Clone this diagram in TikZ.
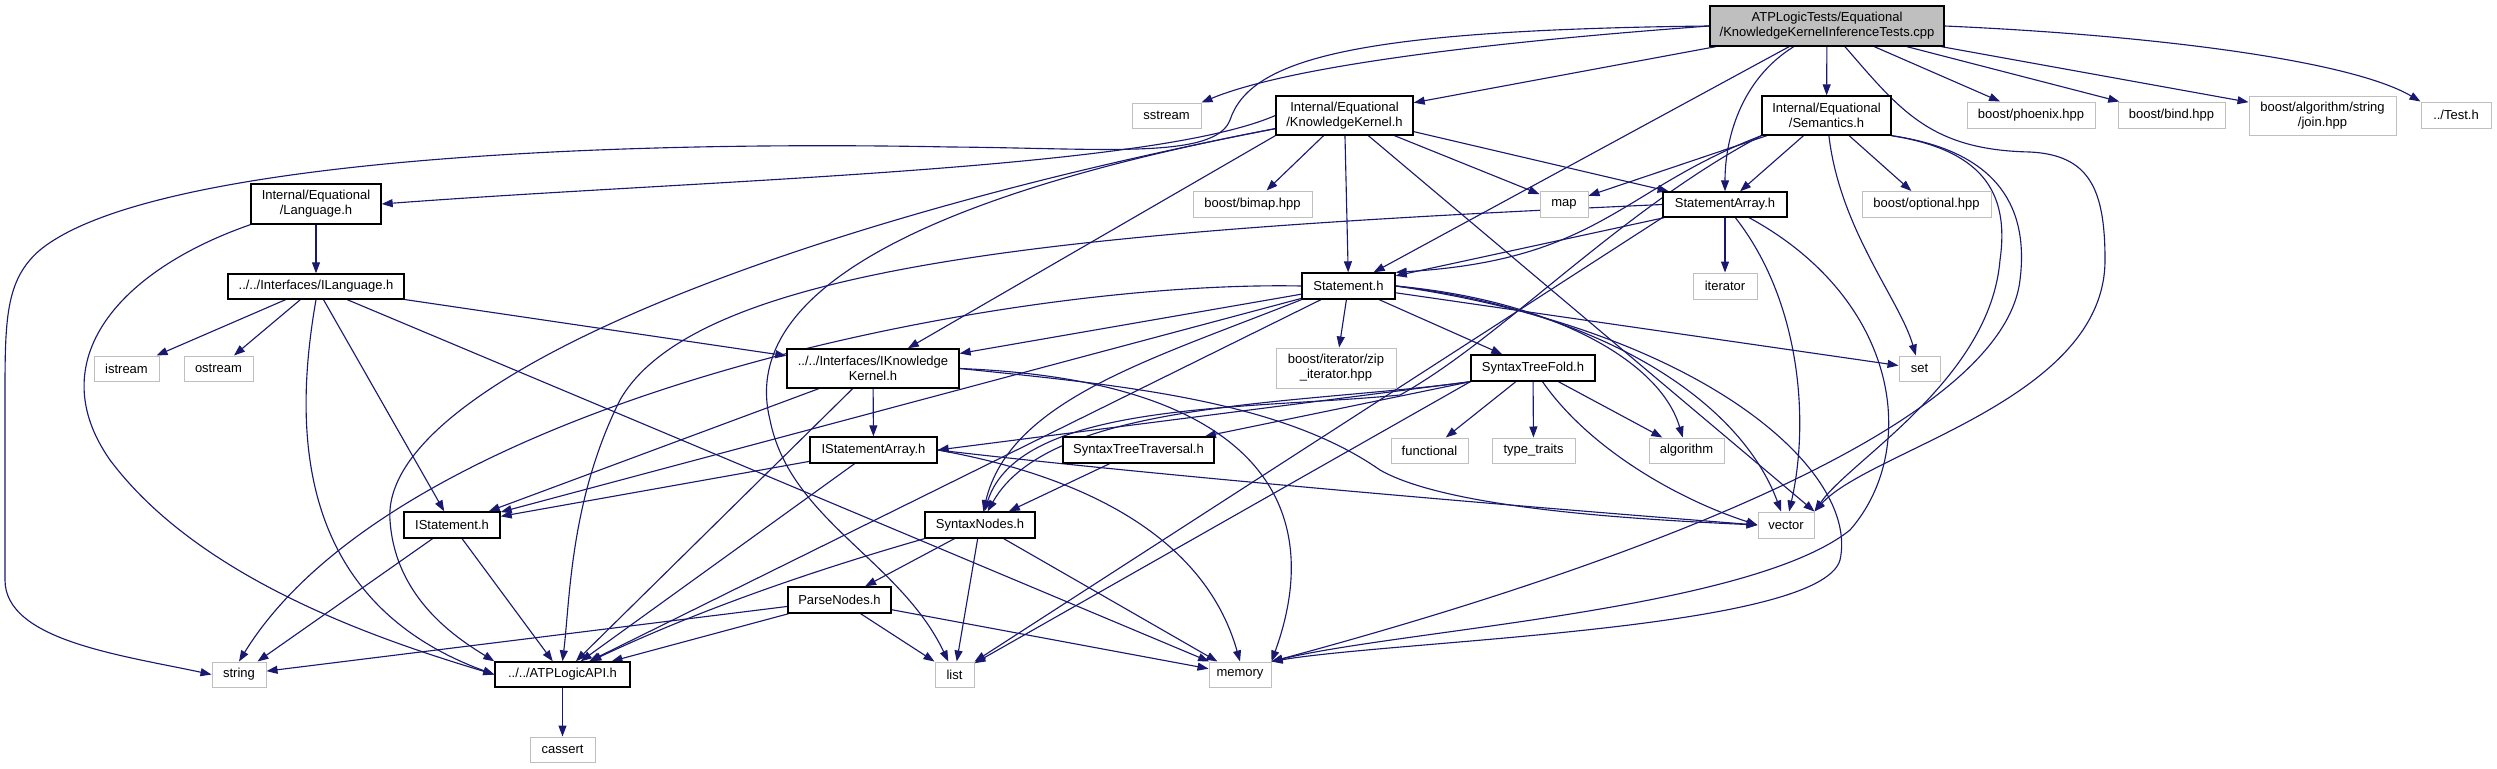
\documentclass[tikz,border=0pt]{standalone}
\usepackage{fontspec}
\setmainfont{Liberation Sans}
\usetikzlibrary{arrows.meta}

\definecolor{midblue}{HTML}{191970}
\definecolor{sysgrey}{HTML}{BFBFBF}
\pgfdeclarelayer{background}
\pgfsetlayers{background,main}

\tikzset{
  hdr/.style={draw=black, line width=0.55mm, fill=white, inner sep=0pt,
    align=center, font=\fontsize{14.8}{17}\selectfont},
  sys/.style={hdr, draw=sysgrey, line width=0.4mm},
  topfile/.style={hdr, fill=sysgrey},
  wh/.style 2 args={minimum width=#1*0.4mm, minimum height=#2*0.4mm},
  inc/.style={draw=midblue, line width=0.45mm,
    -{Triangle[length=4.4mm 0,width=3.2mm 0]}},
}

\begin{document}
\begin{tikzpicture}[x=0.4mm,y=-0.4mm]
      \useasboundingbox (0,0) rectangle (2497,768);

      % Test file
      \node[topfile, wh={234}{40}] (root) at (1827,26) {ATPLogicTests/Equational\\/KnowledgeKernelInferenceTests.cpp};

      % First level
      \node[sys, wh={69}{25}] (sstream) at (1166.5,115.5) {sstream};
      \node[hdr, wh={137}{39}] (kk) at (1344.5,115.5) {Internal/Equational\\/KnowledgeKernel.h};
      \node[hdr, wh={129}{39}] (sem) at (1826.5,115.5) {Internal/Equational\\/Semantics.h};
      \node[sys, wh={128}{26}] (phoenix) at (2031,115) {boost/phoenix.hpp};
      \node[sys, wh={107}{26}] (bind) at (2171.5,115) {boost/bind.hpp};
      \node[sys, wh={147}{39}] (join) at (2322.5,115.5) {boost/algorithm/string\\/join.hpp};
      \node[sys, wh={70}{26}] (test) at (2456,115) {../Test.h};

      % Second and third level
      \node[hdr, wh={130}{40}] (lang) at (316,204) {Internal/Equational\\/Language.h};
      \node[sys, wh={119}{26}] (bimap) at (1252.5,204) {boost/bimap.hpp};
      \node[sys, wh={48}{26}] (map) at (1564,204) {map};
      \node[hdr, wh={124}{25}] (starr) at (1725,204.5) {StatementArray.h};
      \node[sys, wh={129}{26}] (optional) at (1926.5,204.5) {boost/optional.hpp};
      \node[hdr, wh={176}{25}] (ilang) at (316,286.5) {../../Interfaces/ILanguage.h};
      \node[hdr, wh={93}{26}] (stmt) at (1348.5,286) {Statement.h};
      \node[sys, wh={64}{26}] (iterator) at (1725,286) {iterator};

      % Interfaces and syntax trees
      \node[sys, wh={65}{25}] (istream) at (126.5,368.5) {istream};
      \node[sys, wh={69}{25}] (ostream) at (218.5,368.5) {ostream};
      \node[hdr, wh={172}{39}] (ikk) at (873,368.5) {../../Interfaces/IKnowledge\\Kernel.h};
      \node[sys, wh={120}{40}] (zip) at (1336,368) {boost/iterator/zip\\\_iterator.hpp};
      \node[hdr, wh={124}{26}] (fold) at (1533,368) {SyntaxTreeFold.h};
      \node[sys, wh={41}{25}] (set) at (1919.5,368.5) {set};
      \node[hdr, wh={127}{26}] (istarr) at (873.5,450) {IStatementArray.h};
      \node[hdr, wh={151}{26}] (trav) at (1138.5,450) {SyntaxTreeTraversal.h};
      \node[sys, wh={77}{25}] (functional) at (1429.5,450.5) {functional};
      \node[sys, wh={83}{25}] (traits) at (1533.5,450.5) {type\_traits};
      \node[sys, wh={75}{25}] (algorithm) at (1686.5,450.5) {algorithm};
      \node[hdr, wh={96}{26}] (istmt) at (452,525) {IStatement.h};
      \node[hdr, wh={110}{26}] (nodes) at (980,525) {SyntaxNodes.h};
      \node[sys, wh={56}{26}] (vector) at (1786,525) {vector};
      \node[hdr, wh={103}{26}] (parse) at (839.5,600) {ParseNodes.h};

      % Bottom
      \node[sys, wh={54}{25}] (string) at (239,674.5) {string};
      \node[hdr, wh={135}{25}] (api) at (562.5,674.5) {../../ATPLogicAPI.h};
      \node[sys, wh={39}{25}] (list) at (954.5,674.5) {list};
      \node[sys, wh={62}{25}] (memory) at (1240,674.5) {memory};
      \node[sys, wh={65}{25}] (cassert) at (562.5,749.5) {cassert};

      \begin{pgfonlayer}{background}
      % includes of the test file
      \foreach \t in {kk,stmt,sem,phoenix,bind,join}
        \draw[inc] (root) -- (\t);
      \draw[inc] (root.east) .. controls (2150,35) and (2350,60) .. (test.north west);
      \draw[inc] (root.west) .. controls (1450,45) and (1280,70) .. (sstream.north east);
      \draw[inc] (root) .. controls (1740,80) and (1725,140) .. (starr);
      \draw[inc] (root.west) .. controls (1350,30) and (1250,60) .. (1230,120)
        .. controls (1215,160) and (1100,148) .. (950,147)
        .. controls (600,140) and (150,160) .. (40,250)
        .. controls (5,280) and (5,320) .. (5,400) -- (5,580)
        .. controls (5,640) and (120,655) .. (string.west);
      \draw[inc] (root) .. controls (1900,110) and (1930,150) .. (2030,152)
        .. controls (2090,155) and (2105,190) .. (2105,260)
        .. controls (2105,400) and (1870,450) .. (vector.north east);

      % KnowledgeKernel.h
      \foreach \t in {bimap,stmt,map,starr}
        \draw[inc] (kk) -- (\t);
      \draw[inc] (kk.south west) -- (ikk);
      \draw[inc] (kk) -- (vector.north east);
      \draw[inc] (kk.west) .. controls (1150,170) and (700,180) .. (lang.east);
      \draw[inc] (kk) .. controls (800,220) and (380,380) .. (390,520)
        .. controls (395,600) and (460,640) .. (api.north west);
      \draw[inc] (kk) .. controls (900,200) and (740,300) .. (770,420)
        .. controls (790,520) and (900,560) .. (list);

      % Semantics.h
      \foreach \t in {map,starr,optional}
        \draw[inc] (sem) -- (\t);
      \draw[inc] (sem.south west) .. controls (1620,190) and (1600,260) .. (stmt.north east);
      \draw[inc] (sem) .. controls (1840,230) and (1900,300) .. (set);
      \draw[inc] (sem.south west) .. controls (1620,210) and (1500,340) .. (1400,395)
        .. controls (1250,410) and (1020,400) .. (nodes);
      \draw[inc] (sem.south east) .. controls (1980,150) and (2010,190) .. (2000,260)
        .. controls (1990,380) and (1850,460) .. (vector.north east);
      \draw[inc] (sem.south east) .. controls (1990,150) and (2030,200) .. (2020,280)
        .. controls (2000,450) and (1500,600) .. (memory.north east);

      % Language.h and ILanguage.h
      \draw[inc] (lang) -- (ilang);
      \draw[inc] (lang.south west) .. controls (120,270) and (40,360) .. (110,460)
        .. controls (200,580) and (380,640) .. (api.west);
      \foreach \t in {istream,ostream,istmt,ikk,memory}
        \draw[inc] (ilang) -- (\t);
      \draw[inc] (ilang.south) .. controls (295,420) and (290,600) .. (api.west);

      % StatementArray.h
      \foreach \t in {stmt,iterator}
        \draw[inc] (starr) -- (\t);
      \draw[inc] (starr.south west) -- (list);
      \draw[inc] (starr.west) .. controls (1100,230) and (700,260) .. (620,400)
        .. controls (570,500) and (570,600) .. (api.north);
      \draw[inc] (starr) .. controls (1800,300) and (1810,420) .. (vector);
      \draw[inc] (starr) .. controls (1900,300) and (1920,450) .. (1850,530)
        .. controls (1750,610) and (1400,630) .. (memory.north east);

      % Statement.h
      \foreach \t in {istmt,ikk,api,zip,fold,set}
        \draw[inc] (stmt) -- (\t);
      \draw[inc] (stmt.west) .. controls (1000,280) and (400,400) .. (string.north);
      \draw[inc] (stmt.south west) .. controls (1150,360) and (1010,400) .. (nodes);
      \draw[inc] (stmt.east) .. controls (1550,300) and (1660,360) .. (algorithm);
      \draw[inc] (stmt.east) .. controls (1600,310) and (1740,400) .. (vector);
      \draw[inc] (stmt.east) .. controls (1700,330) and (1860,470) .. (1840,560)
        .. controls (1820,630) and (1400,640) .. (memory.north east);

      % SyntaxTreeFold.h
      \foreach \t in {functional,traits,algorithm}
        \draw[inc] (fold) -- (\t);
      \draw[inc] (fold.south west) -- (istarr.east);
      \draw[inc] (fold.south west) -- (trav);
      \draw[inc] (fold.south west) -- (list);
      \draw[inc] (fold.south west) .. controls (1300,405) and (1050,400) .. (nodes);
      \draw[inc] (fold) .. controls (1590,450) and (1680,500) .. (vector.west);

      % IKnowledgeKernel.h and IStatementArray.h
      \foreach \t in {istmt,api,istarr}
        \draw[inc] (ikk) -- (\t);
      \draw[inc] (ikk.east) .. controls (1120,385) and (1280,400) .. (1380,470)
        .. controls (1450,510) and (1650,520) .. (vector.west);
      \draw[inc] (ikk.east) .. controls (1250,380) and (1330,500) .. (memory.north east);
      \foreach \t in {istmt,api}
        \draw[inc] (istarr) -- (\t);
      \draw[inc] (istarr.east) .. controls (1150,475) and (1500,505) .. (vector.west);
      \draw[inc] (istarr.east) .. controls (1050,470) and (1200,520) .. (memory.north);

      % syntax nodes and the rest
      \draw[inc] (trav) -- (nodes);
      \foreach \t in {string,api}
        \draw[inc] (istmt) -- (\t);
      \foreach \t in {parse,list,memory}
        \draw[inc] (nodes) -- (\t);
      \draw[inc] (nodes.south west) .. controls (850,560) and (720,600) .. (api);
      \foreach \t in {string,api,list,memory}
        \draw[inc] (parse) -- (\t);
      \draw[inc] (api) -- (cassert);
      \end{pgfonlayer}
    \end{tikzpicture}
\end{document}
